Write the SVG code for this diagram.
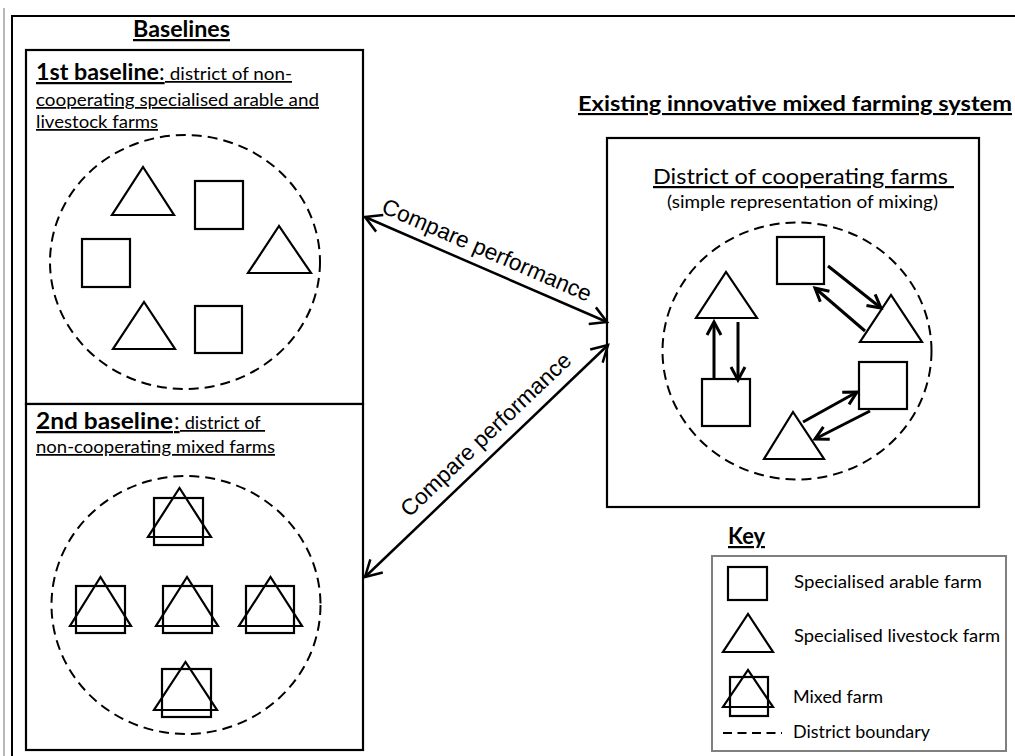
<svg xmlns="http://www.w3.org/2000/svg" width="1015" height="756" viewBox="0 0 1015 756">
<style>
.bg{fill:#fff}
.frame{fill:none;stroke:#000;stroke-width:2}
.box{fill:#fff;stroke:#000;stroke-width:2.2}
.dist{fill:none;stroke:#000;stroke-width:2;stroke-dasharray:10 6}
.shp{fill:none;stroke:#000;stroke-width:2.2;stroke-linejoin:miter}
.t{font-family:Lato,"Open Sans","Liberation Sans",sans-serif;fill:#000}
.b{font-weight:bold}
.u{text-decoration:underline}
.pre{white-space:pre}
.cmp{font-family:"Liberation Sans",Arial,sans-serif;font-size:22.5px;fill:#000}
.arr{fill:none;stroke:#000;stroke-width:2.5}
.iarr{fill:none;stroke:#000;stroke-width:3}
</style>
<defs>
<marker id="ah" markerUnits="userSpaceOnUse" viewBox="-20 -12 24 24" refX="0" refY="0" markerWidth="24" markerHeight="24" orient="auto-start-reverse">
<path d="M-16,-9 L0,0 L-16,9" fill="none" stroke="#000" stroke-width="2.5" stroke-linejoin="miter"/>
</marker>
<marker id="ih" markerUnits="userSpaceOnUse" viewBox="-18 -10 22 20" refX="0" refY="0" markerWidth="22" markerHeight="20" orient="auto">
<path d="M-13,-7 L0,0 L-13,7" fill="none" stroke="#000" stroke-width="3"/>
</marker>
</defs>
<rect class="bg" x="0" y="0" width="1015" height="756"/>
<g id="page-frame">
<line x1="4" y1="8" x2="4" y2="756" stroke="#a0a0a0" stroke-width="1.5"/>
<path class="frame" d="M12,756 L12,16 L1015,16"/>
</g>
<g id="baselines-title">
<text class="t b u" x="133" y="37" font-size="22.5" textLength="97" lengthAdjust="spacingAndGlyphs">Baselines</text>
</g>
<g id="baseline1">
<rect class="box" x="26" y="50" width="337" height="354"/>
<text class="t b u" x="36" y="80" font-size="22.5" textLength="123" lengthAdjust="spacingAndGlyphs">1st baseline</text>
<text class="t u" x="159" y="80" font-size="22.5">:</text>
<text class="t u pre" x="165" y="80" font-size="17.5" textLength="127" lengthAdjust="spacingAndGlyphs"> district of non-</text>
<text class="t u" x="36" y="106" font-size="17.5" textLength="283" lengthAdjust="spacingAndGlyphs">cooperating specialised arable and</text>
<text class="t u" x="36" y="128" font-size="17.5" textLength="122" lengthAdjust="spacingAndGlyphs">livestock farms</text>
<ellipse class="dist" cx="185" cy="262" rx="135" ry="127"/>
<polygon class="shp" points="112,215 174,215 143,167"/>
<rect class="shp" x="195" y="181" width="48" height="48"/>
<polygon class="shp" points="248,273 311,273 279,226"/>
<rect class="shp" x="82" y="239" width="48" height="48"/>
<polygon class="shp" points="113,349 175,349 144,302"/>
<rect class="shp" x="195" y="306" width="47" height="47"/>
</g>
<g id="baseline2">
<rect class="box" x="26" y="404" width="337" height="346"/>
<text class="t b u" x="36" y="429" font-size="22.5" textLength="137" lengthAdjust="spacingAndGlyphs">2nd baseline</text>
<text class="t u" x="174" y="429" font-size="22.5">:</text>
<text class="t u pre" x="180" y="429" font-size="17.5" textLength="85" lengthAdjust="spacingAndGlyphs"> district of </text>
<text class="t u" x="36" y="453" font-size="17.5" textLength="239" lengthAdjust="spacingAndGlyphs">non-cooperating mixed farms</text>
<ellipse class="dist" cx="186" cy="605" rx="134.5" ry="129"/>
<rect class="shp" x="154" y="498" width="49" height="47"/>
<polygon class="shp" points="148,537 211,537 179.5,488"/>
<rect class="shp" x="76" y="586" width="49" height="47"/>
<polygon class="shp" points="70,626 131,626 100.5,577"/>
<rect class="shp" x="163" y="586" width="49" height="47"/>
<polygon class="shp" points="156,626 218,626 187,577"/>
<rect class="shp" x="246" y="586" width="48" height="47"/>
<polygon class="shp" points="239,626 302,626 270.5,577"/>
<rect class="shp" x="162" y="669" width="49" height="48"/>
<polygon class="shp" points="154,710 217,710 185.5,662"/>
</g>
<g id="existing-system">
<text class="t b u" x="578" y="111" font-size="21.5" textLength="434" lengthAdjust="spacingAndGlyphs">Existing innovative mixed farming system</text>
<rect class="box" x="607" y="138" width="372" height="369" stroke-width="2.5"/>
<text class="t u pre" x="653" y="184" font-size="22" textLength="301" lengthAdjust="spacingAndGlyphs">District of cooperating farms </text>
<text class="t" x="667" y="208" font-size="16.5" textLength="271" lengthAdjust="spacingAndGlyphs">(simple representation of mixing)</text>
<ellipse class="dist" cx="797" cy="351" rx="134.5" ry="128.5"/>
<polygon class="shp" points="696,318 757,318 726,272"/>
<rect class="shp" x="702" y="379" width="48" height="47"/>
<rect class="shp" x="777" y="237" width="47" height="47"/>
<polygon class="shp" points="860,342 922,342 891,295"/>
<rect class="shp" x="859" y="362" width="48" height="47"/>
<polygon class="shp" points="764,459 824,459 793,412"/>
<line class="iarr" x1="714" y1="378" x2="714" y2="322" marker-end="url(#ih)"/>
<line class="iarr" x1="738" y1="322" x2="738" y2="380" marker-end="url(#ih)"/>
<line class="iarr" x1="828" y1="266" x2="881" y2="308" marker-end="url(#ih)"/>
<line class="iarr" x1="865" y1="331" x2="815" y2="288" marker-end="url(#ih)"/>
<line class="iarr" x1="803" y1="422" x2="857" y2="392" marker-end="url(#ih)"/>
<line class="iarr" x1="870" y1="411" x2="815" y2="439" marker-end="url(#ih)"/>
</g>
<g id="connectors">
<line class="arr" x1="365" y1="217" x2="607" y2="322" marker-start="url(#ah)" marker-end="url(#ah)"/>
<text class="cmp" x="484" y="257" text-anchor="middle" textLength="226" lengthAdjust="spacingAndGlyphs" transform="rotate(23.5 484 257)">Compare performance</text>
<line class="arr" x1="608" y1="345" x2="365" y2="577" marker-start="url(#ah)" marker-end="url(#ah)"/>
<text class="cmp" x="491" y="440" text-anchor="middle" textLength="226" lengthAdjust="spacingAndGlyphs" transform="rotate(-43.6 491 440)">Compare performance</text>
</g>
<g id="key">
<text class="t b u" x="728" y="544" font-size="22" textLength="37" lengthAdjust="spacingAndGlyphs">Key</text>
<rect x="712" y="556" width="294" height="195" fill="none" stroke="#7f7f7f" stroke-width="2"/>
<rect class="shp" x="728" y="567" width="39" height="33"/>
<text class="t" x="794" y="588" font-size="18" textLength="188" lengthAdjust="spacingAndGlyphs">Specialised arable farm</text>
<polygon class="shp" points="723,652 773,652 748,614"/>
<text class="t" x="794" y="642" font-size="18" textLength="206" lengthAdjust="spacingAndGlyphs">Specialised livestock farm</text>
<rect class="shp" x="730" y="677" width="38" height="39"/>
<polygon class="shp" points="723,707 773,707 748,670"/>
<text class="t" x="793" y="703" font-size="18" textLength="90" lengthAdjust="spacingAndGlyphs">Mixed farm</text>
<line x1="723" y1="733" x2="782" y2="733" stroke="#000" stroke-width="2" stroke-dasharray="9 5.5"/>
<text class="t" x="793" y="738" font-size="18" textLength="137" lengthAdjust="spacingAndGlyphs">District boundary</text>
</g>
</svg>
